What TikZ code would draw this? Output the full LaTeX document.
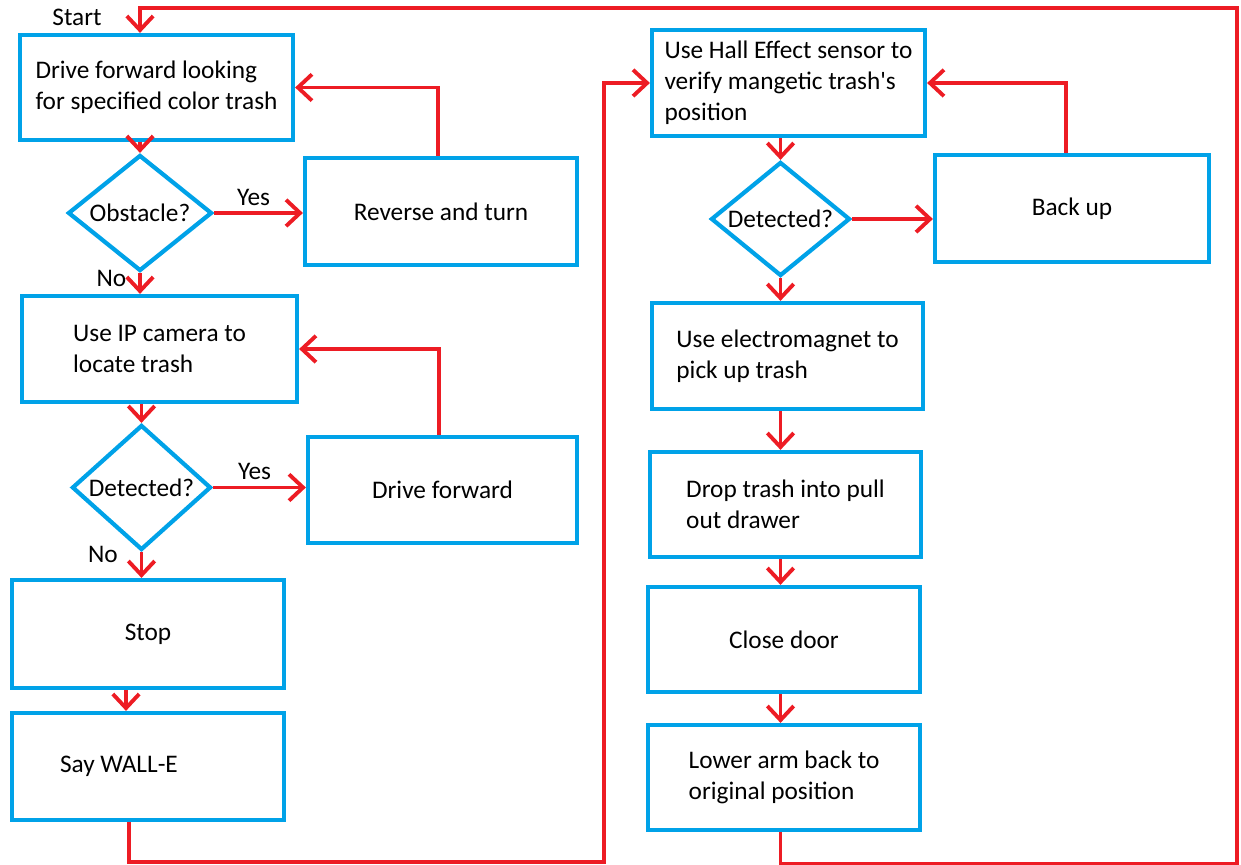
\documentclass[tikz,border=0pt]{standalone}
\usepackage{fontspec}
\setmainfont{Carlito}[Ligatures=TeXOff]
\usetikzlibrary{positioning,arrows.meta,shapes.geometric}
\definecolor{pblue}{RGB}{0,162,232}
\definecolor{pred}{RGB}{237,28,36}

\begin{document}
\begin{tikzpicture}[>={Straight Barb[length=8pt,width=15pt]},
    font=\fontsize{14.4}{17.5}\selectfont,
    box/.style={draw=pblue,line width=2.4pt,minimum width=5.44cm,minimum height=2.12cm,align=left},
    dec/.style={diamond,draw=pblue,line width=2.4pt,aspect=1.3,inner sep=0pt},
    flow/.style={->,draw=pred,line width=2.2pt}]
    \useasboundingbox (0,0) rectangle (24.82,-17.30);
    % left column
    \node (start) at (1.54,-0.34) {Start};
    \node[box,minimum width=5.46cm,minimum height=2.10cm] (drv) at (3.13,-1.75) {Drive forward looking\\for specified color trash};
    \node[dec,minimum width=2.88cm,minimum height=2.32cm] (obs) at (2.80,-4.26) {Obstacle?};
    \node[box,minimum height=2.14cm] (rev) at (8.82,-4.23) {Reverse and turn};
    \node[box,minimum width=5.50cm] (cam) at (3.19,-6.98) {Use IP camera to\\locate trash};
    \node[dec,minimum width=2.78cm,minimum height=2.50cm] (det) at (2.83,-9.75) {Detected?};
    \node[box,minimum width=5.38cm] (fwd) at (8.85,-9.80) {Drive forward};
    \node[box,minimum height=2.16cm] (stp) at (2.96,-12.68) {Stop};
    \node[box,minimum height=2.14cm,text width=3.52cm,align=flush left] (say) at (2.96,-15.33) {Say WALL-E};
    % right column
    \node[box,minimum width=5.46cm] (hal) at (15.77,-1.66) {Use Hall Effect sensor to\\verify mangetic trash's\\position};
    \node[dec,minimum width=2.78cm,minimum height=2.28cm] (dtm) at (15.61,-4.38) {Detected?};
    \node[box,minimum width=5.48cm,minimum height=2.14cm] (bck) at (21.44,-4.17) {Back up};
    \node[box,minimum width=5.42cm] (emg) at (15.75,-7.12) {Use electromagnet to\\pick up trash};
    \node[box,minimum width=5.42cm,minimum height=2.10cm] (drp) at (15.71,-10.09) {Drop trash into pull\\out drawer};
    \node[box,minimum height=2.10cm] (cls) at (15.68,-12.79) {Close door};
    \node[box,minimum height=2.10cm] (low) at (15.68,-15.55) {Lower arm back to\\original position};
    \coordinate (tr) at (24.74,-0.16);
    \coordinate (lb) at (12.08,-17.24);
    % connectors
    \draw[flow] (drv.south -| obs) -- (obs.north);
    \draw[flow] (obs.east) -- node[above,xshift=-0.1cm] {Yes} (rev.west |- obs.east);
    \draw[flow] ([xshift=-0.06cm]rev.north) |- (drv.east);
    \draw[flow] (obs.south) -- node[left,pos=0.25,xshift=-0.12cm] {No} (obs.south |- cam.north);
    \draw[flow] (cam.south -| det) -- (det.north);
    \draw[flow] (det.east) -- node[above,xshift=-0.1cm] {Yes} (fwd.west |- det.east);
    \draw[flow] ([xshift=-0.07cm]fwd.north) |- (cam.east);
    \draw[flow] (det.south) -- node[left,pos=0.1,xshift=-0.32cm] {No} (det.south |- stp.north);
    \draw[flow] ([xshift=-0.44cm]stp.south) -- ([xshift=-0.44cm]say.north);
    \draw[flow] ([xshift=-0.38cm]say.south) |- (lb) |- (hal.west);
    \draw[flow] (hal.south -| dtm) -- (dtm.north);
    \draw[flow] (dtm.east) -- (bck.west |- dtm.east);
    \draw[flow] ([xshift=-0.12cm]bck.north) |- (hal.east);
    \draw[flow] (dtm.south) -- (dtm.south |- emg.north);
    \draw[flow] (emg.south -| dtm) -- (drp.north -| dtm);
    \draw[flow] (drp.south -| dtm) -- (cls.north -| dtm);
    \draw[flow] (cls.south -| dtm) -- (low.north -| dtm);
    \draw[flow] (low.south -| dtm) -- ++(0,-0.64) -| (tr) -| (drv.north -| obs);
\end{tikzpicture}
\end{document}
